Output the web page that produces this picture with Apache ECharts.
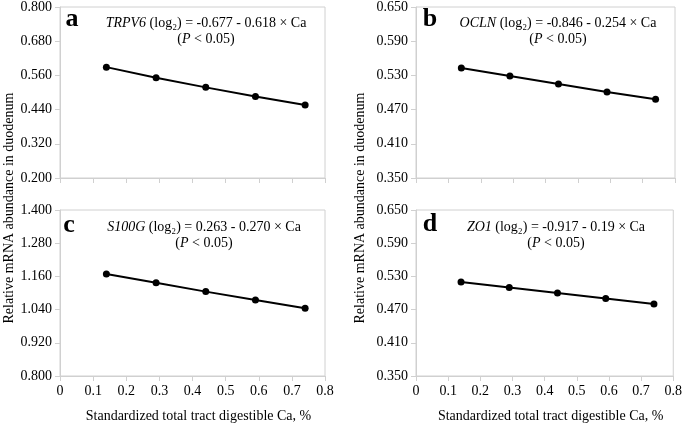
<!DOCTYPE html>
<html>
<head>
<meta charset="utf-8">
<script src="https://cdn.jsdelivr.net/npm/echarts@6/dist/echarts.min.js"></script>
<style>
    html, body { margin: 0; padding: 0; background: #fff; }
    #chart { width: 685px; height: 424px; }
</style>
</head>
<body>
<div id="chart"></div>
<script>
// standardized total tract digestible Ca, %
const ca = [0.14, 0.29, 0.44, 0.59, 0.74];

// relative mRNA abundance
const trpv6 = [0.589, 0.552, 0.518, 0.486, 0.456];
const ocln = [0.543, 0.529, 0.515, 0.501, 0.488];
const s100g = [1.169, 1.137, 1.105, 1.075, 1.045];
const zo1 = [0.520, 0.510, 0.500, 0.490, 0.480];

const xTicks = [0, 0.1, 0.2, 0.3, 0.4, 0.5, 0.6, 0.7, 0.8];
const yTicksA = [0.200, 0.320, 0.440, 0.560, 0.680, 0.800];
const yTicksB = [0.350, 0.410, 0.470, 0.530, 0.590, 0.650];
const yTicksC = [0.800, 0.920, 1.040, 1.160, 1.280, 1.400];
const yTicksD = [0.350, 0.410, 0.470, 0.530, 0.590, 0.650];

const genes = ['TRPV6', 'OCLN', 'S100G', 'ZO1'];
const equations = [
    ' (log\u2082) = -0.677 - 0.618 \u00d7 Ca',
    ' (log\u2082) = -0.846 - 0.254 \u00d7 Ca',
    ' (log\u2082) = 0.263 - 0.270 \u00d7 Ca',
    ' (log\u2082) = -0.917 - 0.19 \u00d7 Ca'
];
const letters = ['a', 'b', 'c', 'd'];

const FONT = '"Liberation Serif", "Times New Roman", serif';
const AXIS_GRAY = '#d0d0d0';

const grids = [
    {left: 60, top: 5, width: 265, height: 173},
    {left: 416, top: 5, width: 259, height: 173},
    {left: 60, top: 210, width: 265, height: 172},
    {left: 416, top: 210, width: 260, height: 173}
];

const panels = [
    {data: trpv6, ticks: yTicksA},
    {data: ocln, ticks: yTicksB},
    {data: s100g, ticks: yTicksC},
    {data: zo1, ticks: yTicksD}
];

const chart = echarts.init(document.getElementById('chart'));

const xAxes = grids.map((g, i) => ({
    type: 'value',
    gridIndex: i,
    min: 0,
    max: 0.8,
    interval: 0.1,
    axisLine: {show: true, lineStyle: {color: AXIS_GRAY, width: 1}},
    axisTick: {show: true, length: 5, lineStyle: {color: AXIS_GRAY}},
    splitLine: {show: false},
    axisLabel: {
        show: i >= 2,
        fontFamily: FONT,
        fontSize: 14,
        color: '#000',
        margin: 8,
        formatter: v => xTicks.includes(Math.round(v * 10) / 10) ? String(Math.round(v * 10) / 10) : ''
    },
    name: i >= 2 ? 'Standardized total tract digestible Ca, %' : '',
    nameLocation: 'middle',
    nameGap: 33,
    nameTextStyle: {fontFamily: FONT, fontSize: 14, color: '#000', padding: [0, 0, 0, 12]}
}));

const yAxes = panels.map((p, i) => ({
    type: 'value',
    gridIndex: i,
    min: p.ticks[0],
    max: p.ticks[p.ticks.length - 1],
    axisLine: {show: true, lineStyle: {color: AXIS_GRAY, width: 1}},
    axisTick: {show: true, length: 5, lineStyle: {color: AXIS_GRAY}, customValues: p.ticks},
    splitLine: {show: false},
    axisLabel: {
        fontFamily: FONT,
        fontSize: 14,
        color: '#000',
        margin: 8,
        customValues: p.ticks,
        formatter: v => v.toFixed(3)
    }
}));

const series = panels.map((p, i) => ({
    type: 'line',
    xAxisIndex: i,
    yAxisIndex: i,
    data: ca.map((x, k) => [x, p.data[k]]),
    symbol: 'circle',
    symbolSize: 7,
    lineStyle: {color: '#000', width: 2},
    itemStyle: {color: '#000'},
    animation: false
}));

// annotation positions (centre of the equation block, letter position)
const notes = [
    {ex: 206, ey: 15, lx: 72, ly: 19},
    {ex: 558, ey: 15, lx: 430, ly: 19},
    {ex: 204, ey: 219, lx: 69, ly: 225},
    {ex: 556, ey: 219, lx: 430, ly: 224}
];

const graphic = [];
notes.forEach((n, i) => {
    graphic.push({
        type: 'text',
        x: n.lx,
        y: n.ly,
        style: {
            text: letters[i],
            font: 'bold 26px ' + FONT,
            fill: '#000',
            textAlign: 'center',
            textVerticalAlign: 'middle'
        }
    });
    graphic.push({
        type: 'text',
        x: n.ex,
        y: n.ey,
        style: {
            text: '{i|' + genes[i] + '}' + equations[i] + '\n({i|P} < 0.05)',
            font: '14px ' + FONT,
            fill: '#000',
            align: 'center',
            verticalAlign: 'top',
            lineHeight: 16,
            rich: {
                i: {fontStyle: 'italic', fontFamily: FONT, fontSize: 14, lineHeight: 16}
            }
        }
    });
});

// shared y-axis titles
[9, 360].forEach(x => {
    graphic.push({
        type: 'text',
        x: x,
        y: 208,
        rotation: Math.PI / 2,
        style: {
            text: 'Relative mRNA abundance in duodenum',
            font: '14px ' + FONT,
            fill: '#000',
            textAlign: 'center',
            textVerticalAlign: 'middle'
        }
    });
});

chart.setOption({
    animation: false,
    grid: grids.map(g => Object.assign({
        show: true,
        borderColor: AXIS_GRAY,
        borderWidth: 1,
        containLabel: false
    }, g)),
    xAxis: xAxes,
    yAxis: yAxes,
    series: series,
    graphic: graphic
});
</script>
</body>
</html>
